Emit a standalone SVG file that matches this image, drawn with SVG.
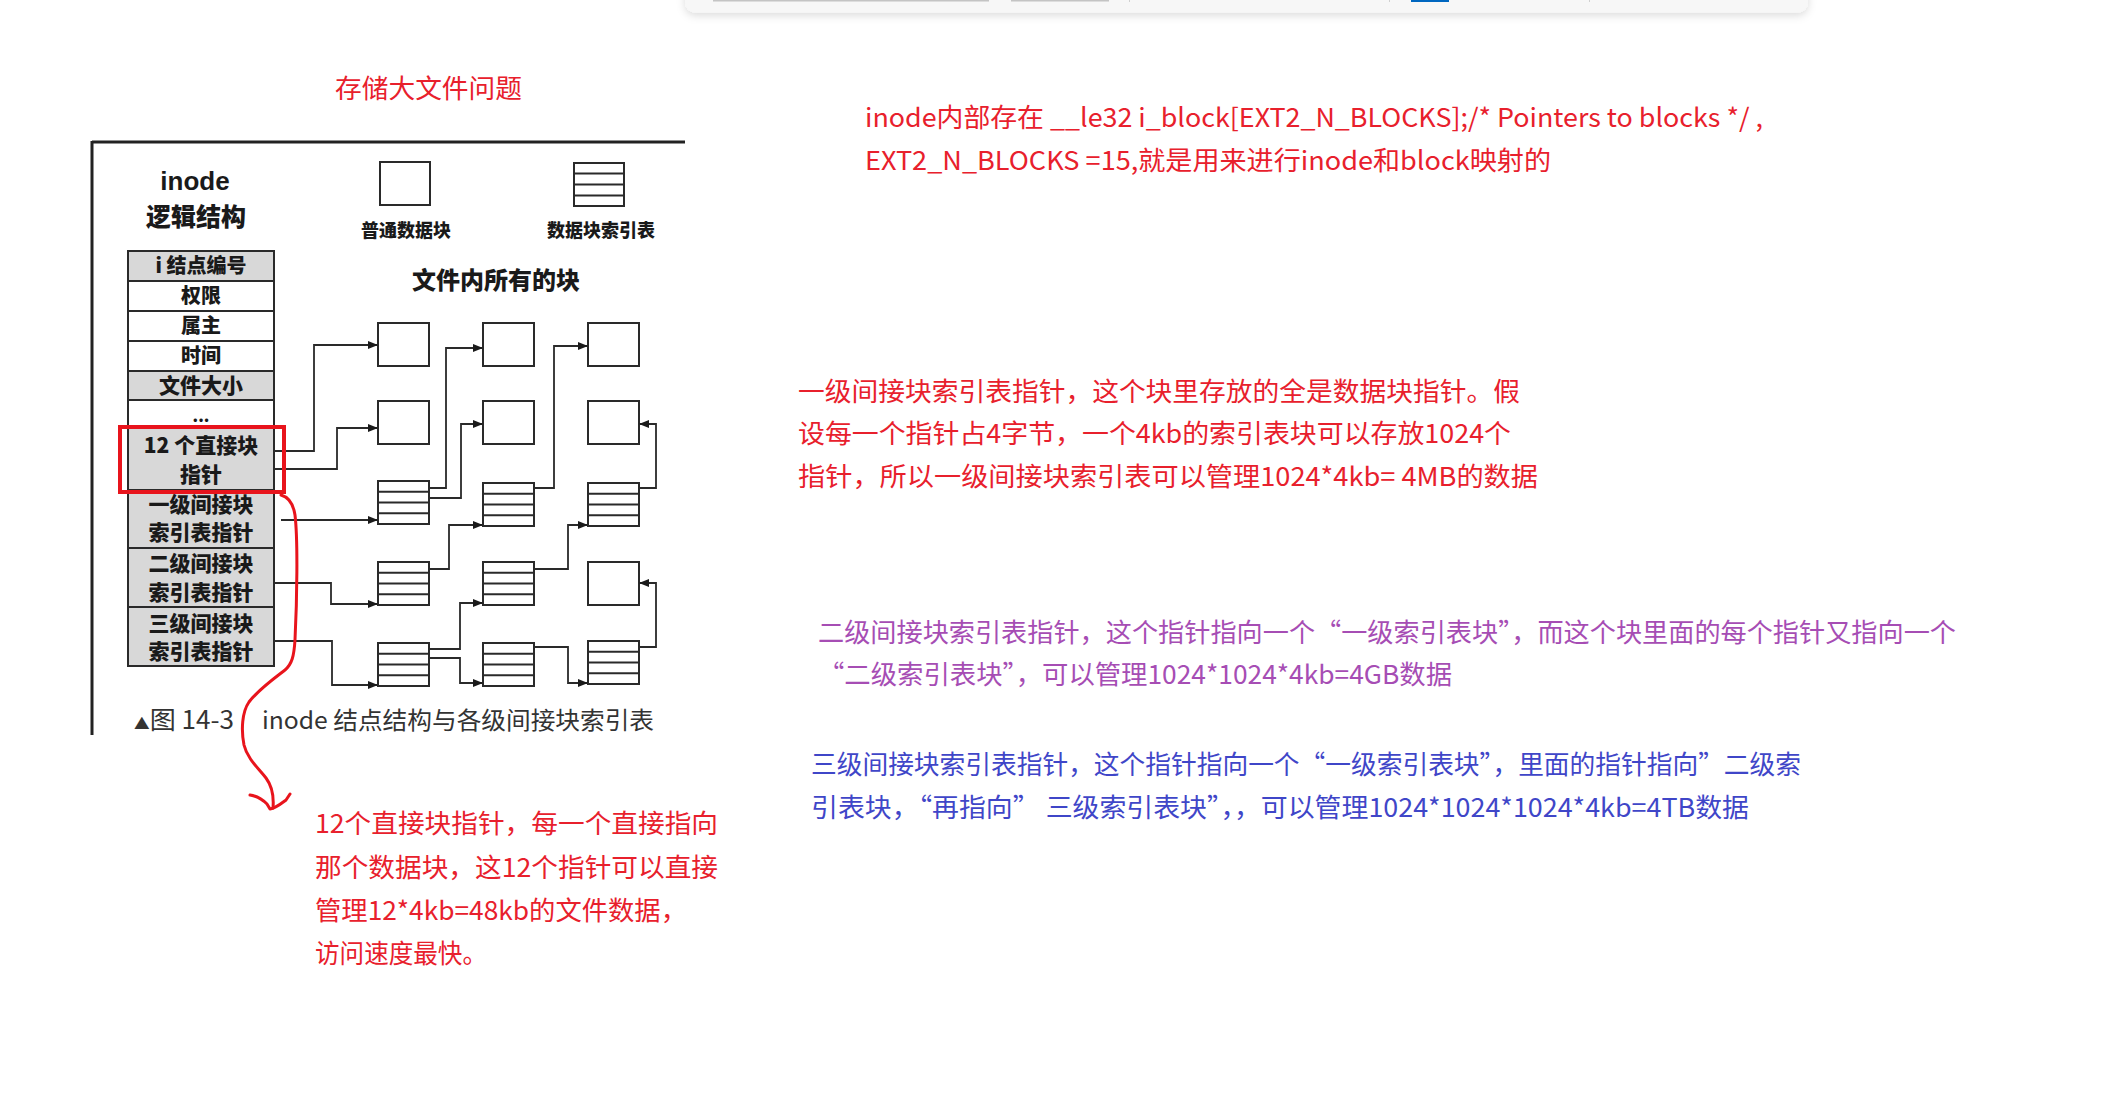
<svg xmlns="http://www.w3.org/2000/svg" xmlns:xlink="http://www.w3.org/1999/xlink" width="2120" height="1114" viewBox="0 0 2120 1114">
<style>
.note{font-family:"Noto Sans CJK SC","Noto Sans",sans-serif;font-size:26px}
.red{fill:#e8202c}
.purple{fill:#a64db4}
.blue{fill:#3f46c8}
.tb{font-family:"Noto Sans CJK SC",sans-serif;font-weight:900;fill:#1a1a1a;text-anchor:middle}
.cell{stroke:#2a2a2a;stroke-width:2}
.sh{fill:#d8d8d8}
.wh{fill:#ffffff}
.box{fill:#fff;stroke:#2a2a2a;stroke-width:2}
.ln{stroke:#2a2a2a;stroke-width:2}
.con{fill:none;stroke:#2a2a2a;stroke-width:1.8;marker-end:url(#ah)}
</style>
<defs>
<filter id="shadow" x="-5%" y="-100%" width="110%" height="400%">
<feDropShadow dx="0" dy="3" stdDeviation="4" flood-color="#000" flood-opacity="0.14"/>
</filter>
<marker id="ah" viewBox="0 0 10 8" refX="10" refY="4" markerWidth="10" markerHeight="8" markerUnits="userSpaceOnUse" orient="auto">
<path d="M0,0 L10,4 L0,8 z" fill="#1a1a1a"/>
</marker>
<g id="blk"><rect class="box" x="0" y="0" width="51" height="43"/></g>
<g id="idx"><rect class="box" x="0" y="0" width="51" height="43"/><line class="ln" x1="0" y1="10.75" x2="51" y2="10.75"/><line class="ln" x1="0" y1="21.5" x2="51" y2="21.5"/><line class="ln" x1="0" y1="32.25" x2="51" y2="32.25"/></g>
</defs>
<rect width="2120" height="1114" fill="#ffffff"/>

<!-- top window bar -->
<g id="topbar">
<rect x="685" y="-20" width="1123" height="32.5" rx="10" fill="#f7f7f7" filter="url(#shadow)"/>
<rect x="713" y="0" width="276" height="1.5" fill="#c4c4c4"/>
<rect x="1011" y="0" width="98" height="1.5" fill="#c4c4c4"/>
<rect x="1129" y="0" width="1" height="2" fill="#d0d0d0"/>
<rect x="1389" y="0" width="1" height="2" fill="#d0d0d0"/>
<rect x="1411" y="0" width="38" height="2" fill="#0067c0"/>
<rect x="1589" y="0" width="1" height="2" fill="#d0d0d0"/>
</g>

<!-- title -->
<text id="title" class="note red" x="335" y="98" textLength="187" lengthAdjust="spacingAndGlyphs">存储大文件问题</text>

<!-- figure frame -->
<g id="frame">
<line x1="92" y1="142" x2="685" y2="142" stroke="#222" stroke-width="3"/>
<line x1="92" y1="141" x2="92" y2="735" stroke="#222" stroke-width="3"/>
</g>

<g id="inode-title">
<text x="195" y="190" font-family="Liberation Sans,Arial,sans-serif" font-weight="700" font-size="26" fill="#1a1a1a" text-anchor="middle">inode</text>
<text class="tb" x="196" y="226" font-size="25">逻辑结构</text>
</g>

<!-- legend -->
<g id="legend-data">
<rect class="box" x="380" y="162" width="50" height="43"/>
<text class="tb" x="406" y="237" font-size="18">普通数据块</text>
</g>
<g id="legend-index">
<rect class="box" x="574" y="163" width="50" height="43"/>
<line class="ln" x1="574" y1="173.5" x2="624" y2="173.5"/>
<line class="ln" x1="574" y1="184.5" x2="624" y2="184.5"/>
<line class="ln" x1="574" y1="195.5" x2="624" y2="195.5"/>
<text class="tb" x="601" y="237" font-size="18">数据块索引表</text>
</g>
<text id="blocks-title" class="tb" x="496" y="289" font-size="24">文件内所有的块</text>

<!-- inode table -->
<g id="inode-table">
<rect class="cell sh" x="128" y="251" width="146" height="30"/>
<rect class="cell wh" x="128" y="281" width="146" height="30"/>
<rect class="cell wh" x="128" y="311" width="146" height="30"/>
<rect class="cell wh" x="128" y="341" width="146" height="30"/>
<rect class="cell sh" x="128" y="371" width="146" height="29"/>
<rect class="cell wh" x="128" y="400" width="146" height="28"/>
<rect class="cell sh" x="128" y="428" width="146" height="62"/>
<rect class="cell sh" x="128" y="490" width="146" height="58"/>
<rect class="cell sh" x="128" y="548" width="146" height="59"/>
<rect class="cell sh" x="128" y="607" width="146" height="59"/>
<text class="tb" x="201" y="273" font-size="20">i 结点编号</text>
<text class="tb" x="201" y="303" font-size="20">权限</text>
<text class="tb" x="201" y="333" font-size="20">属主</text>
<text class="tb" x="201" y="363" font-size="20">时间</text>
<text class="tb" x="201" y="393" font-size="21">文件大小</text>
<text class="tb" x="201" y="422" font-size="16">...</text>
<text class="tb" x="201" y="453" font-size="21">12 个直接块</text>
<text class="tb" x="201" y="482" font-size="21">指针</text>
<text class="tb" x="201" y="512" font-size="21">一级间接块</text>
<text class="tb" x="201" y="540" font-size="21">索引表指针</text>
<text class="tb" x="201" y="571" font-size="21">二级间接块</text>
<text class="tb" x="201" y="600" font-size="21">索引表指针</text>
<text class="tb" x="201" y="631" font-size="21">三级间接块</text>
<text class="tb" x="201" y="659" font-size="21">索引表指针</text>
</g>

<!-- blocks -->
<g id="d-c1r1"><use href="#blk" x="378" y="323"/></g>
<g id="d-c2r1"><use href="#blk" x="483" y="323"/></g>
<g id="d-c3r1"><use href="#blk" x="588" y="323"/></g>
<g id="d-c1r2"><use href="#blk" x="378" y="401"/></g>
<g id="d-c2r2"><use href="#blk" x="483" y="401"/></g>
<g id="d-c3r2"><use href="#blk" x="588" y="401"/></g>
<g id="i-c1r3"><use href="#idx" x="378" y="481"/></g>
<g id="i-c2r3"><use href="#idx" x="483" y="483"/></g>
<g id="i-c3r3"><use href="#idx" x="588" y="483"/></g>
<g id="i-c1r4"><use href="#idx" x="378" y="562"/></g>
<g id="i-c2r4"><use href="#idx" x="483" y="562"/></g>
<g id="d-c3r4"><use href="#blk" x="588" y="562"/></g>
<g id="i-c1r5"><use href="#idx" x="378" y="643"/></g>
<g id="i-c2r5"><use href="#idx" x="483" y="643"/></g>
<g id="i-c3r5"><use href="#idx" x="588" y="641"/></g>

<!-- connectors -->
<g id="connectors">
<polyline class="con" points="274,451 314,451 314,345 378,345"/>
<polyline class="con" points="274,469 337,469 337,428 378,428"/>
<polyline class="con" points="281,520 378,520"/>
<polyline class="con" points="429,488 446,488 446,348 483,348"/>
<polyline class="con" points="429,498 461,498 461,424 483,424"/>
<polyline class="con" points="534,488 554,488 554,346 588,346"/>
<polyline class="con" points="639,488 656,488 656,424 639,424"/>
<polyline class="con" points="274,583 331,583 331,604 378,604"/>
<polyline class="con" points="429,569 449,569 449,525 483,525"/>
<polyline class="con" points="534,569 568,569 568,525 588,525"/>
<polyline class="con" points="639,647 656,647 656,583 639,583"/>
<polyline class="con" points="274,641 332,641 332,685 378,685"/>
<polyline class="con" points="429,649 460,649 460,603 483,603"/>
<polyline class="con" points="429,658 460,658 460,683 483,683"/>
<polyline class="con" points="534,647 568,647 568,683 588,683"/>
</g>

<!-- caption -->
<g id="caption" font-family="Noto Sans CJK SC,sans-serif" fill="#333">
<text x="134" y="729" font-size="25" textLength="100" lengthAdjust="spacingAndGlyphs"><tspan font-size="15">▲</tspan>图 14-3</text>
<text x="262" y="729" font-size="24" textLength="392" lengthAdjust="spacingAndGlyphs">inode 结点结构与各级间接块索引表</text>
</g>

<!-- red highlight + hand-drawn arrow -->
<g id="highlight">
<rect x="120" y="427" width="164" height="65" fill="none" stroke="#e8141c" stroke-width="4"/>
<path d="M281,495 C288,497 293,502 295,515 C298,540 297,600 295,640 C294,656 292,664 285,670 C272,680 258,690 249,702 C242,712 241,730 244,745 C247,758 258,768 266,778 C272,786 274,796 273,808" fill="none" stroke="#e8141c" stroke-width="3" stroke-linecap="round"/>
<path d="M250,795 C257,796 262,799 267,804 L270,809 C276,808 282,803 286,800 L290,794" fill="none" stroke="#e8141c" stroke-width="3" stroke-linecap="round" stroke-linejoin="round"/>
</g>

<!-- notes -->
<g id="note-direct" class="note red">
<text x="315" y="833" textLength="403" lengthAdjust="spacingAndGlyphs">12个直接块指针，每一个直接指向</text>
<text x="315" y="877" textLength="403" lengthAdjust="spacingAndGlyphs">那个数据块，这12个指针可以直接</text>
<text x="315" y="920" textLength="372" lengthAdjust="spacingAndGlyphs">管理12*4kb=48kb的文件数据，</text>
<text x="315" y="963" textLength="172" lengthAdjust="spacingAndGlyphs">访问速度最快。</text>
</g>

<g id="note-iblock" class="note red">
<text x="865" y="127" textLength="898" lengthAdjust="spacingAndGlyphs">inode内部存在 __le32 i_block[EXT2_N_BLOCKS];/* Pointers to blocks */ ,</text>
<text x="865" y="170" textLength="686" lengthAdjust="spacingAndGlyphs">EXT2_N_BLOCKS =15,就是用来进行inode和block映射的</text>
</g>

<g id="note-level1" class="note red">
<text x="798" y="401" textLength="722" lengthAdjust="spacingAndGlyphs">一级间接块索引表指针，这个块里存放的全是数据块指针。假</text>
<text x="798" y="443" textLength="713" lengthAdjust="spacingAndGlyphs">设每一个指针占4字节，一个4kb的索引表块可以存放1024个</text>
<text x="798" y="486" textLength="740" lengthAdjust="spacingAndGlyphs">指针，所以一级间接块索引表可以管理1024*4kb= 4MB的数据</text>
</g>

<g id="note-level2" class="note purple">
<text x="818" y="642" textLength="1138" lengthAdjust="spacingAndGlyphs">二级间接块索引表指针，这个指针指向一个“一级索引表块”，而这个块里面的每个指针又指向一个</text>
<text x="818" y="684" textLength="634" lengthAdjust="spacingAndGlyphs">“二级索引表块”，可以管理1024*1024*4kb=4GB数据</text>
</g>

<g id="note-level3" class="note blue">
<text x="811" y="774" textLength="990" lengthAdjust="spacingAndGlyphs">三级间接块索引表指针，这个指针指向一个“一级索引表块”，里面的指针指向”二级索</text>
<text x="811" y="817" textLength="938" lengthAdjust="spacingAndGlyphs">引表块，“再指向” 三级索引表块”，，可以管理1024*1024*1024*4kb=4TB数据</text>
</g>
</svg>
